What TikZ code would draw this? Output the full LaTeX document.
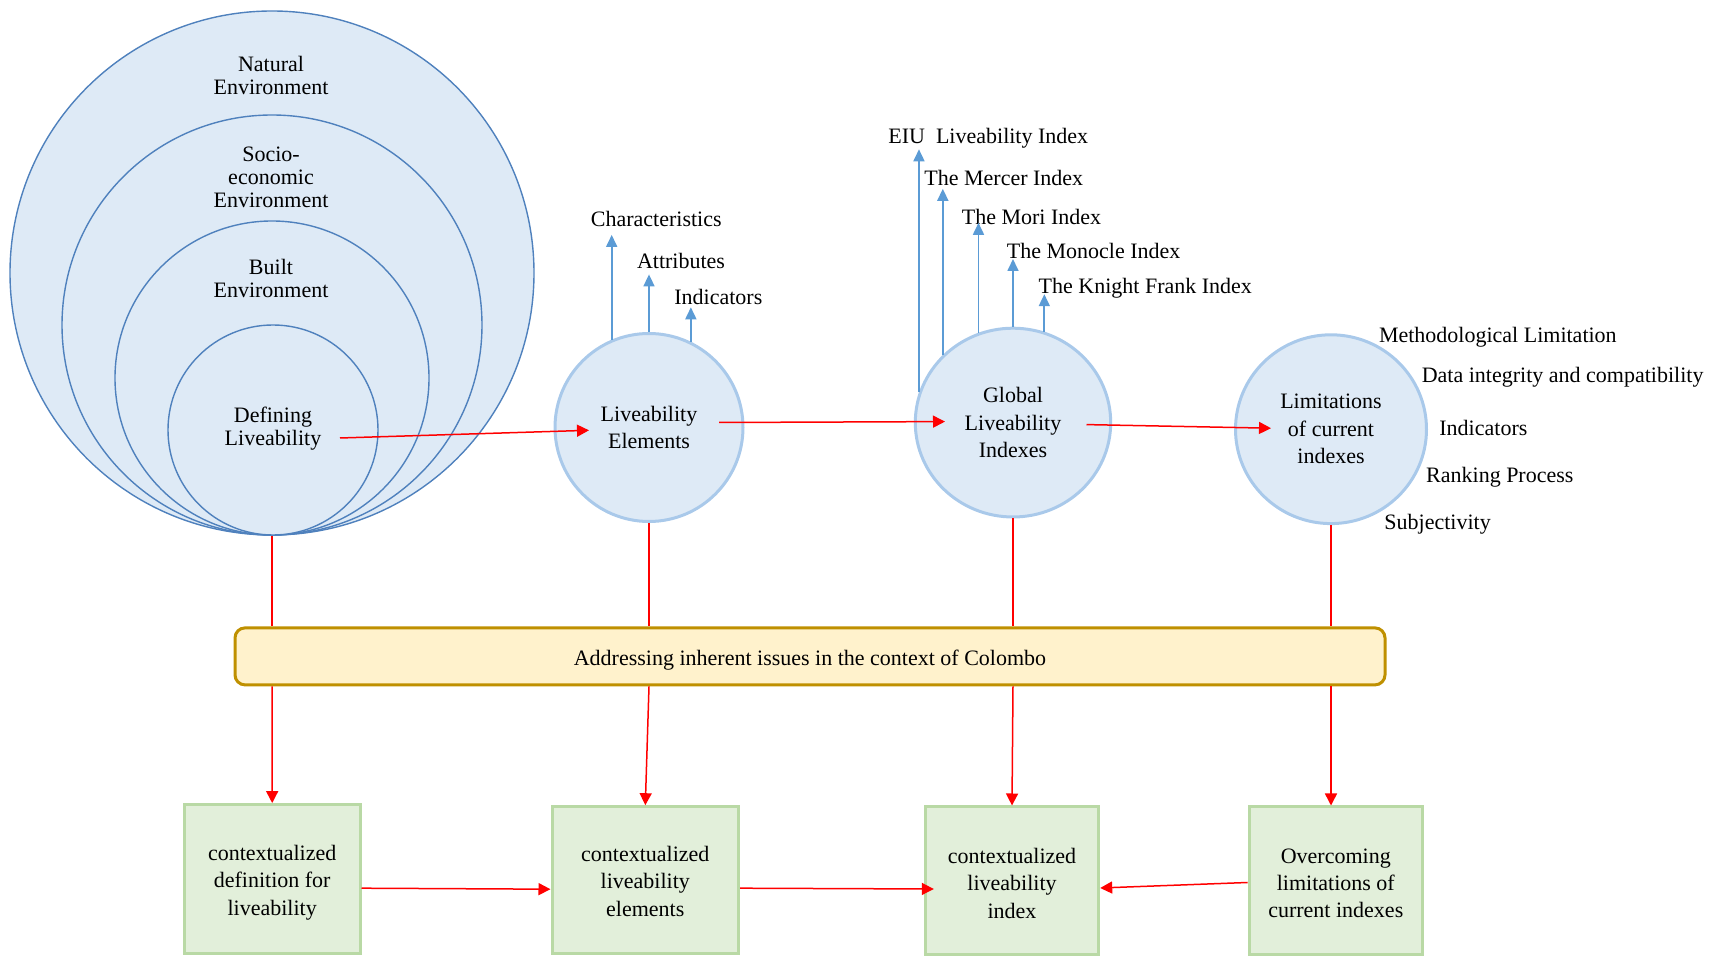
\documentclass[tikz,border=0pt]{standalone}
\usepackage{fontspec}
\setmainfont{Liberation Serif}
\usetikzlibrary{arrows.meta,shapes.geometric}

\definecolor{ringline}{HTML}{4F81BD}
\definecolor{ringfill}{HTML}{DEEAF6}
\definecolor{bubbleline}{HTML}{A9C9EA}
\definecolor{pointer}{HTML}{5B9BD5}
\definecolor{flow}{HTML}{FF0000}
\definecolor{bandfill}{HTML}{FFF2CC}
\definecolor{bandline}{HTML}{BF9000}
\definecolor{outfill}{HTML}{E2EFDA}
\definecolor{greenline}{HTML}{B9D9A5}

\begin{document}
\begin{tikzpicture}[x=0.5pt,y=-0.5pt,
  every node/.style={font=\fontsize{11pt}{11.5pt}\selectfont},
  ring/.style={circle,draw=ringline,line width=0.7pt,fill=ringfill,inner sep=0pt},
  ringtext/.style={align=center,inner sep=0pt},
  bubble/.style={ellipse,draw=bubbleline,line width=1.5pt,fill=ringfill,inner sep=0pt,
    align=center,font=\fontsize{11pt}{13.7pt}\selectfont},
  lbl/.style={anchor=base west,inner sep=0pt},
  outbox/.style={rectangle,draw=greenline,line width=1.5pt,fill=outfill,inner sep=0pt},
  boxtext/.style={align=center,inner sep=0pt,font=\fontsize{11pt}{13.7pt}\selectfont},
  flowline/.style={draw=flow,line width=0.75pt},
  flowarr/.style={flowline,-{Triangle[length=6pt,width=6pt]}},
  ptr/.style={draw=pointer,line width=0.85pt,-{Triangle[length=6pt,width=5.5pt]}}
]
\useasboundingbox (0,0) rectangle (1721,956);

% nested environment rings
\node[ring,minimum size=262pt] (natural) at (272,273) {};
\node[ring,minimum size=210pt] (socio) at (272,325) {};
\node[ring,minimum size=157pt] (built) at (272,378) {};
\node[ring,minimum size=105pt] (core) at (273,430) {};
\node[ringtext] (naturalT) at (271,75) {Natural\\Environment};
\node[ringtext] (socioT) at (271,177) {Socio-\\economic\\Environment};
\node[ringtext] (builtT) at (271,278) {Built\\Environment};
\node[ringtext] (coreT) at (273,428.5) {Defining\\Liveability};

% study stages
\node[bubble,minimum width=94pt,minimum height=94pt] (elem) at (649,427.5) {Liveability\\Elements};
\node[bubble,minimum width=97.7pt,minimum height=94.4pt] (glob) at (1013,422.6) {Global\\Liveability\\Indexes};
\node[bubble,minimum width=95.5pt,minimum height=94.4pt] (limit) at (1331,429.2) {Limitations\\of current\\indexes};

% context band
\node[rectangle,rounded corners=5pt,draw=bandline,line width=1.5pt,fill=bandfill,
  minimum width=575pt,minimum height=28.5pt,inner sep=0pt] (band) at (810,656.4) {};
\node[inner sep=0pt] (bandT) at ([yshift=-1.7pt]band.center)
  {Addressing inherent issues in the context of Colombo};

% outcomes
\node[outbox,minimum width=87.8pt,minimum height=74.6pt] (defOut) at (272.2,879.2) {};
\node[outbox,minimum width=93.3pt,minimum height=73.5pt] (elemOut) at (645.3,880.2) {};
\node[outbox,minimum width=86.7pt,minimum height=74pt] (indexOut) at (1012,881) {};
\node[outbox,minimum width=86.7pt,minimum height=74pt] (overOut) at (1335.8,881) {};
\node[boxtext] (defOutT) at ([yshift=-1.7pt]defOut.center) {contextualized\\definition for\\liveability};
\node[boxtext] (elemOutT) at ([yshift=-0.5pt]elemOut.center) {contextualized\\liveability\\elements};
\node[boxtext] (indexOutT) at ([yshift=-1.2pt]indexOut.center) {contextualized\\liveability\\index};
\node[boxtext] (overOutT) at ([yshift=-1.2pt]overOut.center) {Overcoming\\limitations of\\current indexes};

% element labels
\node[lbl] (tChar) at (590.5,226.9) {Characteristics};
\node[lbl] (tAttr) at (636.6,268.6) {Attributes};
\node[lbl] (tInd) at (674,304.8) {Indicators};

% index labels
\node[lbl] (tEIU) at (888,143.5) {EIU\ \ Liveability Index};
\node[lbl] (tMercer) at (924,185.2) {The Mercer Index};
\node[lbl] (tMori) at (961.5,224.7) {The Mori Index};
\node[lbl] (tMonocle) at (1006.5,258.8) {The Monocle Index};
\node[lbl] (tKnight) at (1038.3,293.9) {The Knight Frank Index};

% limitation labels
\node[lbl] (tMeth) at (1378.6,342.2) {Methodological Limitation};
\node[lbl] (tData) at (1421.4,382.8) {Data integrity and compatibility};
\node[lbl] (tIndic) at (1439,435.5) {Indicators};
\node[lbl] (tRank) at (1425.8,482.7) {Ranking Process};
\node[lbl] (tSubj) at (1384,529.9) {Subjectivity};

% blue pointers to the labels
\draw[ptr] (elem.113.6) -- (elem.113.6 |- 0,234.9);
\draw[ptr] (elem.90) -- (elem.90 |- 0,274.4);
\draw[ptr] (elem.64.6) -- (elem.64.6 |- 0,307.3);
\draw[ptr] (glob.162.8) -- (glob.162.8 |- 0,149.3);
\draw[ptr] (glob.136.3) -- (glob.136.3 |- 0,188.8);
\draw[ptr] (glob.111.2) -- (glob.111.2 |- 0,222.8);
\draw[ptr] (glob.90) -- (glob.90 |- 0,259);
\draw[ptr] (glob.71.1) -- (glob.71.1 |- 0,294.2);

% main flow
\draw[flowarr] ([shift={(67,8)}]core.center) -- ([shift={(-60,2.8)}]elem.center);
\draw[flowarr] ([shift={(70,-5)}]elem.center) -- ([shift={(-68,-1)}]glob.center);
\draw[flowarr] ([shift={(73.5,2)}]glob.center) -- ([shift={(-60,-1)}]limit.center);

% through the context band
\draw[flowline] (natural.south) -- (natural.south |- band.north);
\draw[flowarr] (natural.south |- band.south) -- (defOut.north);
\draw[flowline] (elem.south) -- (elem.south |- band.north);
\draw[flowarr] (elem.south |- band.south) -- (elemOut.north);
\draw[flowline] (glob.south) -- (glob.south |- band.north);
\draw[flowarr] (glob.south |- band.south) -- (indexOut.north);
\draw[flowline] (limit.south) -- (limit.south |- band.north);
\draw[flowarr] (limit.south |- band.south) -- (limit.south |- overOut.north);

% outcome flow
\draw[flowarr] ([shift={(0,9)}]defOut.east) -- ([shift={(0,9)}]elemOut.west);
\draw[flowarr] ([shift={(0,8)}]elemOut.east) -- ([shift={(10,8)}]indexOut.west);
\draw[flowarr] ([shift={(0,1.5)}]overOut.west) -- ([shift={(0,7)}]indexOut.east);
\end{tikzpicture}
\end{document}
